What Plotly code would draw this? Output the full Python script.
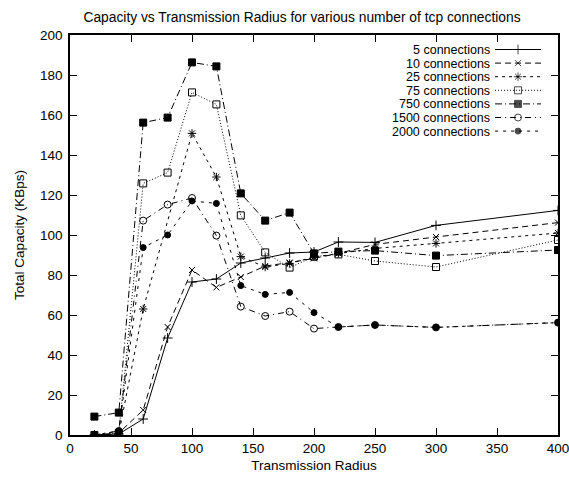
import plotly.graph_objects as go

radius = [20, 40, 60, 80, 100, 120, 140, 160, 180, 200, 220, 250, 300, 400]

conn5 = [0, 0.5, 8, 48.5, 76.5, 78, 86, 88.5, 91, 91.5, 96.5, 96.3, 104.8, 112.3]
conn10 = [0, 1, 12.5, 54, 82.5, 73.8, 79, 84.5, 86.2, 88.3, 90.8, 95.3, 99, 106.2]
conn25 = [0, 0.5, 63, None, 150.8, 129, 89.2, 84, 85.8, 89, 90.8, 93.3, 95.8, 101]
conn75 = [0, 1, 125.8, 131.2, 171.3, 165.3, 109.8, 91.3, 83.7, 89.2, 90.3, 87, 84, 97.5]
conn750 = [9.2, 11.2, 156.2, 158.7, 186.3, 184.3, 120.8, 107.2, 111.2, 90.8, 91.7, 92.2, 89.7, 92.5]
conn1500 = [0, 2, 107.2, 115.2, 118.5, 99.7, 64.2, 59.5, 61.7, 53.2, 54, 55, 53.8, 56.2]
conn2000 = [0, 2, 93.7, 100, 117, 115.8, 74.7, 70.3, 71.3, 61.2, 54, 55, 53.8, 56.2]

series_names = ["5 connections", "10 connections", "25 connections", "75 connections",
                "750 connections", "1500 connections", "2000 connections"]
series_values = [conn5, conn10, conn25, conn75, conn750, conn1500, conn2000]

x_ticks = [0, 50, 100, 150, 200, 250, 300, 350, 400]
y_ticks = [0, 20, 40, 60, 80, 100, 120, 140, 160, 180, 200]

styles = [
    dict(dash="solid", symbol="cross-thin-open", size=7),
    dict(dash="6px,4px", symbol="x-thin-open", size=6),
    dict(dash="3px,4px", symbol="asterisk-open", size=7),
    dict(dash="1px,2px", symbol="square-open", size=7),
    dict(dash="7px,3px,1px,3px", symbol="square", size=7),
    dict(dash="6px,4px,1px,4px", symbol="circle-open", size=7),
    dict(dash="3px,5px", symbol="circle", size=6),
]

FONT = "Liberation Sans, Arial, sans-serif"
FS = 13.5
W, H = 569, 477
L, R, T, B = 69.5, 558, 35, 435

fig = go.Figure()
for name, vals, st in zip(series_names, series_values, styles):
    fig.add_trace(go.Scatter(
        x=radius, y=vals, name=name, mode="lines+markers", connectgaps=True,
        line=dict(color="black", width=1, dash=st["dash"]),
        marker=dict(symbol=st["symbol"], size=st["size"], color="black",
                    line=dict(color="black", width=1)),
        showlegend=False, xaxis="x", yaxis="y"))

# custom legend (text right-aligned, sample on the right) on an overlay axis
pw, ph = R - L, B - T
for i, (name, st) in enumerate(zip(series_names, styles)):
    py = 49.5 + 13.6 * i
    yy = (B - py) / ph
    xs = [(495 - L) / pw, (518 - L) / pw, (541 - L) / pw]
    fig.add_trace(go.Scatter(
        x=xs, y=[yy] * 3, mode="lines+markers",
        line=dict(color="black", width=1, dash=st["dash"]),
        marker=dict(symbol=st["symbol"], size=[0, st["size"], 0], color="black",
                    line=dict(color="black", width=1)),
        showlegend=False, hoverinfo="skip", xaxis="x2", yaxis="y2"))
    fig.add_annotation(x=(491 - L) / pw, y=yy, xref="x2", yref="y2", text=name,
                       showarrow=False, xanchor="right", yanchor="middle",
                       height=13, borderpad=0,
                       font=dict(family=FONT, size=12.5, color="black"))

axis_common = dict(showline=True, linecolor="black", linewidth=1.5, mirror="ticks",
                   ticks="inside", ticklen=7, tickwidth=1, tickcolor="black",
                   showgrid=False, zeroline=False, automargin=False,
                   ticklabeloverflow="allow",
                   tickfont=dict(family=FONT, size=FS, color="black"))

fig.update_layout(
    width=W, height=H,
    margin=dict(l=L, r=W - R, t=T, b=H - B),
    paper_bgcolor="white", plot_bgcolor="white",
    title=dict(text="Capacity vs Transmission Radius for various number of tcp connections",
               x=302 / W, xanchor="center", y=1 - 17 / H, yanchor="middle",
               font=dict(family=FONT, size=13.8, color="black")),
    xaxis=dict(range=[0, 400], tickvals=x_ticks, ticktext=[str(v) for v in x_ticks],
               ticklabelstandoff=0,
               title=dict(text="Transmission Radius", standoff=6,
                          font=dict(family=FONT, size=FS, color="black")),
               **axis_common),
    yaxis=dict(range=[0, 200], tickvals=y_ticks, ticktext=[str(v) for v in y_ticks],
               ticklabelstandoff=3,
               title=dict(text="Total Capacity (KBps)", standoff=12,
                          font=dict(family=FONT, size=FS, color="black")),
               **axis_common),
    xaxis2=dict(overlaying="x", range=[0, 1], visible=False, fixedrange=True),
    yaxis2=dict(overlaying="y", range=[0, 1], visible=False, fixedrange=True),
)

fig.write_html("out.html", config={"displayModeBar": False},
               post_script="document.body.style.margin='0';document.body.style.overflow='hidden';")
